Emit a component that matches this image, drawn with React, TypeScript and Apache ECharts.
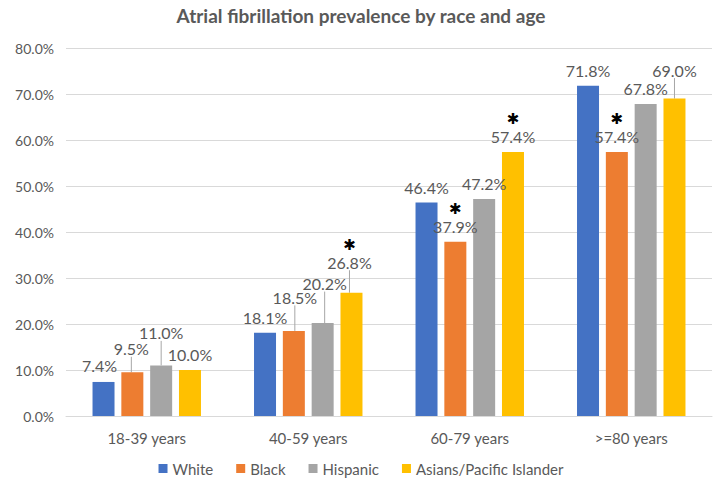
import React, { useEffect, useRef } from "react";
import * as echarts from "echarts";

const categories = ["18-39 years", "40-59 years", "60-79 years", ">=80 years"];
const seriesNames = ["White", "Black", "Hispanic", "Asians/Pacific Islander"];
const white = [7.4, 18.1, 46.4, 71.8];
const black = [9.5, 18.5, 37.9, 57.4];
const hispanic = [11.0, 20.2, 47.2, 67.8];
const asian = [10.0, 26.8, 57.4, 69.0];
const yTicks = [0, 10, 20, 30, 40, 50, 60, 70, 80];
// significance markers (*) per series
const whiteStar = [false, false, false, false];
const blackStar = [false, false, true, true];
const hispanicStar = [false, false, false, false];
const asianStar = [false, true, true, false];

const colors = ["#4472C4", "#ED7D31", "#A5A5A5", "#FFC000"];
// label displacement (px) used to mimic moved data labels
const labelShift: number[][][] = [
  [[-4, -1], [0, 0], [0, 0], [0, 0]],
  [[-1, -8], [1, -18], [0, 0], [0, 0]],
  [[0, -17], [2, -24], [0, 0], [0, 0]],
  [[0, 0], [-2, -15], [0, 0], [0, -13]],
];
const movedWithLine: boolean[][] = [
  [false, false, false, false],
  [true, true, false, false],
  [true, true, false, false],
  [false, true, false, true],
];

const TEXT = "#595959";
const FONT = "Lato, 'Open Sans', sans-serif";

export default function App() {
  const ref = useRef<HTMLDivElement>(null);
  useEffect(() => {
    if (!ref.current) return;
    const chart = echarts.init(ref.current, undefined, { renderer: "svg" });
    const values = [white, black, hispanic, asian];
    const stars = [whiteStar, blackStar, hispanicStar, asianStar];
    const series = values.map((vals, s) => ({
      name: seriesNames[s],
      type: "bar",
      barWidth: 22,
      barGap: "31%",
      itemStyle: { color: colors[s] },
      data: vals.map((v, i) => ({
        value: v,
        labelLine: { show: movedWithLine[s][i] },
      })),
      label: {
        show: true,
        position: "top",
        distance: 6,
        color: TEXT,
        fontFamily: FONT,
        fontSize: 16,
        formatter: (p: any) => {
          const t = `{v|${Number(p.value).toFixed(1)}%}`;
          return stars[s][p.dataIndex] ? `{s|\u2731}\n${t}` : t;
        },
        rich: {
          v: { color: TEXT, fontFamily: FONT, fontSize: 16, lineHeight: 19 },
          s: { color: "#000", fontFamily: "DejaVu Sans", fontSize: 15, lineHeight: 15 },
        },
      },
      labelLine: { show: false, lineStyle: { color: "#A6A6A6", width: 1 } },
      labelLayout: (p: any) => {
        const sh = labelShift[s][p.dataIndex];
        return { dx: sh[0], dy: sh[1] };
      },
    }));
    chart.setOption({
      animation: false,
      color: colors,
      title: {
        text: "Atrial fibrillation prevalence by race and age",
        left: "center",
        top: 1,
        textStyle: { color: TEXT, fontFamily: FONT, fontSize: 19, fontWeight: "bold" },
      },
      grid: { left: 66, right: 10, top: 48, bottom: 71, containLabel: false },
      legend: {
        data: seriesNames,
        top: 456,
        left: "center",
        icon: "rect",
        itemWidth: 9,
        itemHeight: 9,
        itemGap: 23,
        textStyle: { color: TEXT, fontFamily: FONT, fontSize: 15 },
      },
      xAxis: {
        type: "category",
        data: categories,
        axisTick: { show: false },
        axisLine: { lineStyle: { color: "#D9D9D9" } },
        axisLabel: { color: TEXT, fontFamily: FONT, fontSize: 15, margin: 14 },
      },
      yAxis: {
        type: "value",
        min: yTicks[0],
        max: yTicks[yTicks.length - 1],
        interval: yTicks[1] - yTicks[0],
        axisLine: { show: false },
        axisTick: { show: false },
        splitLine: { lineStyle: { color: "#D9D9D9" } },
        axisLabel: {
          color: TEXT,
          fontFamily: FONT,
          fontSize: 14,
          margin: 12,
          formatter: (v: number) => `${v.toFixed(1)}%`,
        },
      },
      series,
    });
    return () => chart.dispose();
  }, []);
  return <div ref={ref} style={{ width: 722, height: 487, position: "absolute", left: 0, top: 0 }} />;
}
